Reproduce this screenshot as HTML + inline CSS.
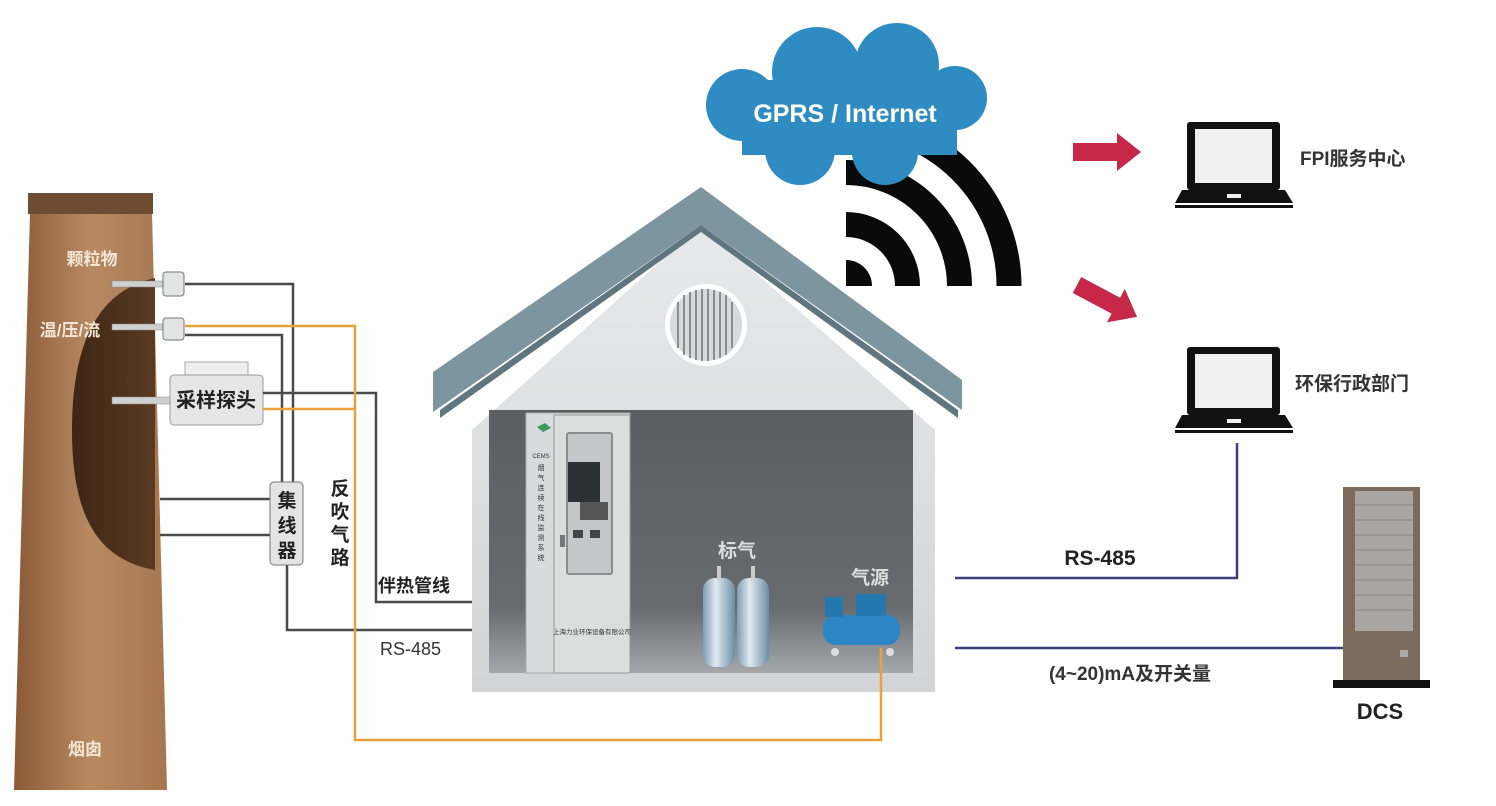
<!DOCTYPE html>
<html><head><meta charset="utf-8"><style>
html,body{margin:0;padding:0;background:#fff;}
svg{display:block;}
text{font-family:"Liberation Sans","Noto Sans CJK SC",sans-serif;}
</style></head><body>
<svg width="1496" height="806" viewBox="0 0 1496 806" xmlns="http://www.w3.org/2000/svg">
<defs>
<linearGradient id="chim" x1="0" x2="1" y1="0" y2="0">
<stop offset="0" stop-color="#8a5a38"/><stop offset="0.5" stop-color="#b88a62"/><stop offset="1" stop-color="#a57650"/></linearGradient>
<linearGradient id="inner" x1="0" x2="1"><stop offset="0" stop-color="#3d2616"/><stop offset="1" stop-color="#5a3a22"/></linearGradient>
<linearGradient id="room" x1="0" y1="0" x2="0" y2="1"><stop offset="0" stop-color="#5b5f61"/><stop offset="0.75" stop-color="#676b6d"/><stop offset="1" stop-color="#a5a8aa"/></linearGradient>
<linearGradient id="wall" x1="0" y1="0" x2="0" y2="1"><stop offset="0" stop-color="#e8e9ea"/><stop offset="1" stop-color="#d2d4d5"/></linearGradient>
<linearGradient id="tank" x1="0" x2="1"><stop offset="0" stop-color="#7e9db4"/><stop offset="0.4" stop-color="#dfeaf2"/><stop offset="1" stop-color="#6d8ca3"/></linearGradient>
</defs>

<!-- chimney -->
<polygon points="30,213 152,213 167,790 14,790" fill="url(#chim)"/>
<rect x="28" y="193" width="125" height="21" fill="#6e4c32"/>
<path d="M155,278 C100,290 72,340 72,430 C72,520 100,560 155,570 Z" fill="url(#inner)"/>
<text x="92" y="265" font-size="17" font-weight="bold" fill="#f3e6d6" text-anchor="middle">颗粒物</text>
<text x="70" y="336" font-size="17" font-weight="bold" fill="#f3e6d6" text-anchor="middle">温/压/流</text>
<text x="85" y="755" font-size="17" font-weight="bold" fill="#f3e6d6" text-anchor="middle">烟囱</text>

<!-- probes -->
<rect x="112" y="281" width="52" height="6" fill="#cfd0d0" stroke="#888" stroke-width="0.5"/>
<rect x="163" y="272" width="21" height="24" rx="3" fill="#e2e3e3" stroke="#777"/>
<rect x="112" y="324" width="52" height="6" fill="#cfd0d0" stroke="#888" stroke-width="0.5"/>
<rect x="163" y="318" width="21" height="22" rx="3" fill="#e2e3e3" stroke="#777"/>
<rect x="112" y="397" width="58" height="7" fill="#cfd0d0" stroke="#888" stroke-width="0.5"/>
<rect x="185" y="362" width="63" height="14" fill="#eeeeee" stroke="#aaa"/>
<rect x="170" y="375" width="93" height="50" rx="4" fill="#e6e6e6" stroke="#999"/>
<text x="216" y="407" font-size="20" font-weight="bold" fill="#222" text-anchor="middle">采样探头</text>

<!-- wires left -->
<g fill="none" stroke="#4a4a4a" stroke-width="2.5">
<polyline points="185,284 293,284 293,482"/>
<polyline points="185,335 282,335 282,482"/>
<polyline points="263,393 376,393 376,602 527,602"/>
<polyline points="287,565 287,630 527,630"/>
<line x1="160" y1="499" x2="270" y2="499"/>
<line x1="160" y1="535" x2="270" y2="535"/>
</g>
<g fill="none" stroke="#e8a23c" stroke-width="2.5">
<polyline points="185,326 355,326 355,740 881,740 881,690"/>
<line x1="263" y1="409" x2="355" y2="409"/>
</g>
<rect x="270" y="482" width="33" height="83" rx="4" fill="#e4e4e4" stroke="#777"/>
<text x="287" y="507" font-size="19" font-weight="bold" fill="#222" text-anchor="middle">集</text>
<text x="287" y="532" font-size="19" font-weight="bold" fill="#222" text-anchor="middle">线</text>
<text x="287" y="557" font-size="19" font-weight="bold" fill="#222" text-anchor="middle">器</text>
<g font-size="19" font-weight="bold" fill="#222" text-anchor="middle">
<text x="340" y="495">反</text><text x="340" y="518">吹</text><text x="340" y="541">气</text><text x="340" y="564">路</text>
</g>
<text x="378" y="592" font-size="18" font-weight="bold" fill="#222">伴热管线</text>
<text x="380" y="655" font-size="18" fill="#333">RS-485</text>

<!-- wifi -->
<g fill="none" stroke="#0a0a0a" stroke-width="25">
<path d="M846,224.5 A61.5,61.5 0 0 1 907.5,286"/>
<path d="M846,172.5 A113.5,113.5 0 0 1 959.5,286"/>
<path d="M846,123 A163,163 0 0 1 1009,286"/>
</g>
<path d="M846,260 A26,26 0 0 1 872,286 L846,286 Z" fill="#0a0a0a"/>

<!-- cloud -->
<g fill="#2f8cc2">
<circle cx="817" cy="72" r="45"/>
<circle cx="897" cy="65" r="42"/>
<circle cx="742" cy="105" r="36"/>
<circle cx="955" cy="98" r="32"/>
<circle cx="800" cy="150" r="35"/>
<circle cx="885" cy="152" r="33"/>
<rect x="742" y="80" width="215" height="75"/>
</g>
<text x="845" y="122" font-size="25" font-weight="bold" fill="#fff" text-anchor="middle">GPRS / Internet</text>

<!-- house -->
<polygon points="472,430 701,225 935,430 935,692 472,692" fill="url(#wall)"/>
<polygon points="433,372 701,187 962,380 962,410 701,225 433,412" fill="#7c959f"/>
<polygon points="440,410 701,225 958,410 958,418 701,232 440,418" fill="#5f767f"/>
<rect x="489" y="410" width="424" height="263" fill="url(#room)"/>
<circle cx="706" cy="325" r="41" fill="#fff"/>
<circle cx="706" cy="325" r="36" fill="#d8d9da"/>
<g stroke="#8a8c8e" stroke-width="2">
<line x1="678" y1="302" x2="678" y2="348"/><line x1="684" y1="295" x2="684" y2="355"/><line x1="690" y1="292" x2="690" y2="358"/><line x1="696" y1="290" x2="696" y2="360"/><line x1="702" y1="289" x2="702" y2="361"/><line x1="708" y1="289" x2="708" y2="361"/><line x1="714" y1="290" x2="714" y2="360"/><line x1="720" y1="292" x2="720" y2="358"/><line x1="726" y1="295" x2="726" y2="355"/><line x1="732" y1="302" x2="732" y2="348"/>
</g>

<!-- cabinet -->
<rect x="526" y="413" width="104" height="260" fill="#d9dadb" stroke="#aaa"/>
<rect x="554" y="415" width="76" height="258" fill="#dcdddd" stroke="#999"/>
<rect x="566" y="432" width="47" height="143" rx="3" fill="#8a8d8f"/>
<rect x="568" y="434" width="43" height="139" fill="#c4c6c7"/>
<rect x="568" y="462" width="32" height="40" fill="#2c2f33"/>
<rect x="580" y="502" width="28" height="18" fill="#555"/>
<rect x="573" y="530" width="10" height="8" fill="#444"/><rect x="590" y="530" width="10" height="8" fill="#444"/>
<rect x="560" y="535" width="5" height="12" fill="#777"/>
<path d="M537,427 l8,-4 l6,5 l-8,4z" fill="#3a9a5a"/>
<text x="541" y="458" font-size="6" fill="#333" text-anchor="middle">CEMS</text>
<g font-size="7" fill="#333" text-anchor="middle">
<text x="541" y="470">烟</text><text x="541" y="480">气</text><text x="541" y="490">连</text><text x="541" y="500">续</text><text x="541" y="510">在</text><text x="541" y="520">线</text><text x="541" y="530">监</text><text x="541" y="540">测</text><text x="541" y="550">系</text><text x="541" y="560">统</text>
</g>
<text x="592" y="634" font-size="6.5" fill="#333" text-anchor="middle">上海力业环保设备有限公司</text>

<!-- tanks -->
<rect x="703" y="578" width="32" height="89" rx="12" fill="url(#tank)"/>
<rect x="737" y="578" width="32" height="89" rx="12" fill="url(#tank)"/>
<rect x="717" y="566" width="4" height="14" fill="#ccc"/><rect x="751" y="566" width="4" height="14" fill="#ccc"/>
<text x="737" y="557" font-size="19" font-weight="bold" fill="#ddd" text-anchor="middle">标气</text>
<text x="870" y="584" font-size="19" font-weight="bold" fill="#ddd" text-anchor="middle">气源</text>
<!-- orange pipe from compressor -->
<line x1="881" y1="648" x2="881" y2="692" stroke="#e8a23c" stroke-width="2.5"/>
<!-- compressor -->
<rect x="823" y="615" width="77" height="30" rx="13" fill="#2a86c4"/>
<rect x="825" y="597" width="18" height="20" fill="#2478b0"/>
<rect x="856" y="594" width="30" height="22" fill="#2478b0"/>
<circle cx="835" cy="652" r="4" fill="#ddd"/><circle cx="890" cy="652" r="4" fill="#ddd"/>

<!-- right connections -->
<g fill="none" stroke="#3b3f7a" stroke-width="2.5">
<polyline points="955,578 1237,578 1237,443"/>
<line x1="955" y1="648" x2="1343" y2="648"/>
</g>
<text x="1100" y="565" font-size="21" font-weight="bold" fill="#222" text-anchor="middle">RS-485</text>
<text x="1130" y="680" font-size="19" font-weight="bold" fill="#333" text-anchor="middle">(4~20)mA及开关量</text>

<!-- arrows -->
<polygon points="1073,143 1117,143 1117,133 1141,152 1117,171 1117,161 1073,161" fill="#c82848"/>
<g transform="translate(1077,285) rotate(28)"><polygon points="0,-9 44,-9 44,-19 68,0 44,19 44,9 0,9" fill="#c82848"/></g>

<!-- laptops -->
<g>
<rect x="1187" y="122" width="93" height="68" rx="3" fill="#111"/>
<rect x="1195" y="129" width="77" height="54" fill="#f0f0f0"/>
<path d="M1182,190 L1285,190 L1293,203 L1175,203 Z" fill="#111"/>
<rect x="1175" y="205" width="118" height="3" fill="#111"/>
<rect x="1227" y="194" width="14" height="4" fill="#f0f0f0"/>
<text x="1300" y="165" font-size="19" font-weight="bold" fill="#333">FPI服务中心</text>
</g>
<g>
<rect x="1187" y="347" width="93" height="68" rx="3" fill="#111"/>
<rect x="1195" y="354" width="77" height="54" fill="#f0f0f0"/>
<path d="M1182,415 L1285,415 L1293,428 L1175,428 Z" fill="#111"/>
<rect x="1175" y="430" width="118" height="3" fill="#111"/>
<rect x="1227" y="419" width="14" height="4" fill="#f0f0f0"/>
<text x="1295" y="390" font-size="19" font-weight="bold" fill="#333">环保行政部门</text>
</g>

<!-- DCS -->
<rect x="1343" y="487" width="77" height="193" fill="#7d6b5e"/>
<rect x="1355" y="491" width="58" height="140" fill="#aaa6a4"/>
<g stroke="#8a8583" stroke-width="1">
<line x1="1355" y1="505" x2="1413" y2="505"/><line x1="1355" y1="520" x2="1413" y2="520"/><line x1="1355" y1="535" x2="1413" y2="535"/><line x1="1355" y1="550" x2="1413" y2="550"/><line x1="1355" y1="565" x2="1413" y2="565"/><line x1="1355" y1="580" x2="1413" y2="580"/><line x1="1355" y1="595" x2="1413" y2="595"/><line x1="1355" y1="610" x2="1413" y2="610"/>
</g>
<rect x="1400" y="650" width="8" height="7" fill="#aaa"/>
<rect x="1333" y="680" width="97" height="8" fill="#111"/>
<text x="1380" y="719" font-size="22" font-weight="bold" fill="#222" text-anchor="middle">DCS</text>
</svg>
</body></html>
